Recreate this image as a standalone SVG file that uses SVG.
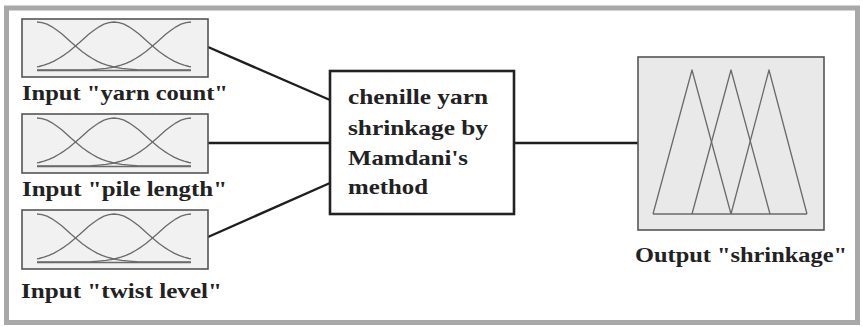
<svg xmlns="http://www.w3.org/2000/svg" width="863" height="327" viewBox="0 0 863 327">
<style>
.frame{fill:#ffffff;stroke:#a8a8a8;stroke-width:5}
.inbox{fill:#f1f1f1;stroke:#555;stroke-width:1.6}
.outbox{fill:#e9e9e9;stroke:#555;stroke-width:1.6}
.mf{fill:none;stroke:#6a6a6a;stroke-width:1.3;stroke-linejoin:round}
.proc{fill:#ffffff;stroke:#222;stroke-width:2.6}
.conn{stroke:#1e1e1e;stroke-width:2.4;fill:none}
.lbl{font-family:"Liberation Serif","Times New Roman",serif;font-weight:bold;font-size:21px;fill:#222}
</style>
<defs>
<g id="gauss">
<polyline class="mf" points="15,3 20,3.6 25,5.2 30,7.8 35,11.2 40,15.1 45,19.5 50,23.9 55,28.3 60,32.4 65,36.1 70,39.3 75,42.1 80,44.3 85,46.2 90,47.5 95,48.6 100,49.4 105,49.9 110,50.3 115,50.6 169,51"/>
<polyline class="mf" points="15,47.9 17,47.5 22,46.2 27,44.3 32,42.1 37,39.3 42,36.1 47,32.4 52,28.3 57,23.9 62,19.5 67,15.1 72,11.2 77,7.8 82,5.2 87,3.6 92,3 97,3.6 102,5.2 107,7.8 112,11.2 117,15.1 122,19.5 127,23.9 132,28.3 137,32.4 142,36.1 147,39.3 152,42.1 157,44.3 162,46.2 167,47.5 169,47.9"/>
<polyline class="mf" points="15,51 69,50.6 74,50.3 79,49.9 84,49.4 89,48.6 94,47.5 99,46.2 104,44.3 109,42.1 114,39.3 119,36.1 124,32.4 129,28.3 134,23.9 139,19.5 144,15.1 149,11.2 154,7.8 159,5.2 164,3.6 169,3"/>
<line class="mf" x1="15" y1="51.5" x2="169" y2="51.5"/>
</g>
</defs>
<rect class="frame" x="6.5" y="8" width="851" height="314.5"/>
<g id="connectors">
<line class="conn" x1="208" y1="47" x2="330" y2="100"/>
<line class="conn" x1="208" y1="143" x2="330" y2="143"/>
<line class="conn" x1="208" y1="237" x2="330" y2="183"/>
<line class="conn" x1="514" y1="143" x2="638" y2="143"/>
</g>
<g id="input-yarn-count">
<rect class="inbox" x="22" y="19" width="186" height="58"/>
<use href="#gauss" transform="translate(22,19)"/>
<text class="lbl" x="22" y="100" textLength="206" lengthAdjust="spacingAndGlyphs">Input "yarn count"</text>
</g>
<g id="input-pile-length">
<rect class="inbox" x="22" y="114" width="186" height="59"/>
<use href="#gauss" transform="translate(22,115)"/>
<text class="lbl" x="22" y="196" textLength="205" lengthAdjust="spacingAndGlyphs">Input "pile length"</text>
</g>
<g id="input-twist-level">
<rect class="inbox" x="22" y="210" width="186" height="59"/>
<use href="#gauss" transform="translate(22,211)"/>
<text class="lbl" x="21" y="298" textLength="201" lengthAdjust="spacingAndGlyphs">Input "twist level"</text>
</g>
<g id="mamdani">
<rect class="proc" x="330" y="71" width="184" height="143"/>
<text class="lbl" x="348" y="104" textLength="140" lengthAdjust="spacingAndGlyphs">chenille yarn</text>
<text class="lbl" x="348" y="135" textLength="140" lengthAdjust="spacingAndGlyphs">shrinkage by</text>
<text class="lbl" x="348" y="165" textLength="120" lengthAdjust="spacingAndGlyphs">Mamdani's</text>
<text class="lbl" x="348" y="194" textLength="80" lengthAdjust="spacingAndGlyphs">method</text>
</g>
<g id="output-shrinkage">
<rect class="outbox" x="638" y="57" width="186" height="173"/>
<polyline class="mf" points="653,214 692,70 731,214"/>
<polyline class="mf" points="692,214 731,70 770,214"/>
<polyline class="mf" points="731,214 769,70 807,214"/>
<line class="mf" x1="653" y1="214" x2="807" y2="214"/>
<text class="lbl" x="635" y="262" textLength="212" lengthAdjust="spacingAndGlyphs">Output "shrinkage"</text>
</g>
</svg>
